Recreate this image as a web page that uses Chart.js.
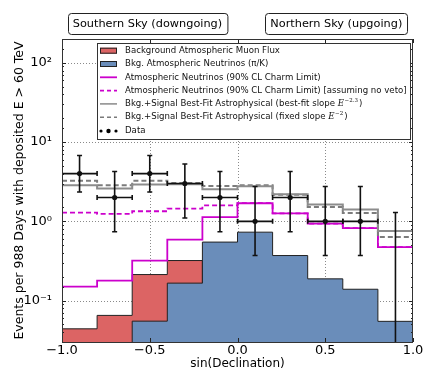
<!DOCTYPE html>
<html><head><meta charset="utf-8">
<script src="https://cdn.jsdelivr.net/npm/chart.js@4.4.1/dist/chart.umd.min.js"></script>
<style>html,body{margin:0;padding:0;background:#fff}</style>
</head><body>
<canvas id="c" width="436" height="373" style="width:436px;height:373px;display:block"></canvas>
<script>
// ---------- data ----------
const binEdges       = [-1.0,-0.8,-0.6,-0.4,-0.2,0.0,0.2,0.4,0.6,0.8,1.0];
const muonFlux       = [0.044,0.065,0.213,0.32,0,0,0,0,0,0];
const atmNuPiK       = [0,0,0.055,0.166,0.547,0.73,0.37,0.188,0.139,0.0547];
const charmLimit     = [0.150,0.179,0.32,0.586,1.13,1.69,1.26,0.935,0.82,0.473];
const charmNoVeto    = [1.29,1.24,1.34,1.45,1.59,1.70,1.26,0.935,0.82,0.473];
const bestFitSlope23 = [2.86,2.59,2.92,2.94,2.54,2.77,2.20,1.63,1.41,0.755];
const fixedSlope2    = [3.24,2.86,3.24,3.05,2.80,2.86,2.17,1.52,1.27,0.634];
const dataCounts     = [4,2,4,3,2,1,2,1,1,0];
const dataErrLow     = [2.34,0.74,2.34,1.10,0.74,0.37,0.74,0.37,0.37,0];
const dataErrHigh    = [6.78,4.25,6.78,5.30,4.25,2.75,4.25,2.75,2.75,1.29];
const xTickValues    = [-1.0,-0.5,0.0,0.5,1.0];
const yTickLabels    = {'-1':'10\u207B\u00B9','0':'10\u2070','1':'10\u00B9','2':'10\u00B2'};
const skyLabels      = [{text:'Southern Sky (downgoing)', at:-0.513},{text:'Northern Sky (upgoing)', at:0.563}];
const legendItems = [
  {kind:'patch', color:'#dc6464', text:'Background Atmospheric Muon Flux'},
  {kind:'patch', color:'#6a8dba', text:'Bkg. Atmospheric Neutrinos (\u03C0/K)'},
  {kind:'line',  color:'#cc00cc', dash:[], text:'Atmospheric Neutrinos (90% CL Charm Limit)'},
  {kind:'line',  color:'#cc00cc', dash:[4,3], text:'Atmospheric Neutrinos (90% CL Charm Limit) [assuming no veto]'},
  {kind:'line',  color:'#8a8a8a', dash:[], text:'Bkg.+Signal Best-Fit Astrophysical (best-fit slope ', exp:'\u22122.3', tail:')'},
  {kind:'line',  color:'#7a7a7a', dash:[4,3], text:'Bkg.+Signal Best-Fit Astrophysical (fixed slope ', exp:'\u22122', tail:')'},
  {kind:'dots',  color:'#000', text:'Data'}
];
// ---------------------------------------------------

const FLOOR = 1e-3;
function stepPoints(vals){
  const pts = vals.map((v,i)=>({x:binEdges[i], y: v>0 ? v : FLOOR}));
  pts.push({x:binEdges[binEdges.length-1], y:pts[pts.length-1].y});
  return pts;
}
const centers = binEdges.slice(0,-1).map((e,i)=>(e+binEdges[i+1])/2);
const dataPts = dataCounts.map((c,i)=>({x:centers[i], y:c>0?c:null}));
const isMajor = v => Math.abs(Math.log10(v)-Math.round(Math.log10(v)))<1e-6;

Chart.defaults.font.family = "'DejaVu Sans', sans-serif";
Chart.defaults.color = '#000';

const decor = {
  id:'decor',
  beforeDatasetsDraw(chart){
    const {ctx, chartArea:a, scales:{x,y}} = chart;
    ctx.save();
    ctx.strokeStyle = '#8a8a8a'; ctx.lineWidth = 1; ctx.setLineDash([1,2]);
    y.ticks.forEach(t=>{ if(isMajor(t.value)){ const py=Math.round(y.getPixelForValue(t.value))+0.5;
      ctx.beginPath(); ctx.moveTo(a.left,py); ctx.lineTo(a.right,py); ctx.stroke(); }});
    xTickValues.slice(1,-1).forEach(v=>{ const px=Math.round(x.getPixelForValue(v))+0.5;
      ctx.beginPath(); ctx.moveTo(px,a.top); ctx.lineTo(px,a.bottom); ctx.stroke(); });
    ctx.restore();
  },
  afterDatasetsDraw(chart){
    const {ctx, chartArea:a, scales:{x,y}} = chart;
    ctx.save();
    ctx.beginPath(); ctx.rect(a.left,a.top,a.right-a.left,a.bottom-a.top); ctx.clip();
    ctx.strokeStyle='#111'; ctx.lineWidth=1.6; ctx.setLineDash([]);
    const py = v => v>0 ? y.getPixelForValue(v) : a.bottom+5;
    dataCounts.forEach((c,i)=>{
      const cx = x.getPixelForValue(centers[i]);
      const yh = py(dataErrHigh[i]), yl = py(dataErrLow[i]);
      ctx.beginPath(); ctx.moveTo(cx,yh); ctx.lineTo(cx,yl);
      ctx.moveTo(cx-2.5,yh); ctx.lineTo(cx+2.5,yh);
      if(dataErrLow[i]>0){ ctx.moveTo(cx-2.5,yl); ctx.lineTo(cx+2.5,yl); }
      ctx.stroke();
      if(c>0){
        const yc = y.getPixelForValue(c);
        const x0 = x.getPixelForValue(binEdges[i]), x1 = x.getPixelForValue(binEdges[i+1]);
        ctx.beginPath(); ctx.moveTo(x0,yc); ctx.lineTo(x1,yc);
        ctx.moveTo(x0,yc-2.5); ctx.lineTo(x0,yc+2.5);
        ctx.moveTo(x1,yc-2.5); ctx.lineTo(x1,yc+2.5);
        ctx.stroke();
      }
    });
    ctx.restore();
  },
  afterDraw(chart){
    const {ctx, chartArea:a, scales:{x,y}} = chart;
    ctx.save();
    ctx.strokeStyle='#222'; ctx.lineWidth=1; ctx.setLineDash([]);
    y.ticks.forEach(t=>{ const p=Math.round(y.getPixelForValue(t.value))+0.5; const L=isMajor(t.value)?4:2;
      ctx.beginPath(); ctx.moveTo(a.left,p); ctx.lineTo(a.left+L,p); ctx.moveTo(a.right,p); ctx.lineTo(a.right-L,p); ctx.stroke(); });
    xTickValues.forEach(v=>{ const p=Math.round(x.getPixelForValue(v))+0.5;
      ctx.beginPath(); ctx.moveTo(p,a.bottom); ctx.lineTo(p,a.bottom-4); ctx.moveTo(p,a.top); ctx.lineTo(p,a.top+4); ctx.stroke(); });
    ctx.strokeStyle='#333';
    ctx.strokeRect(Math.round(a.left)+0.5, Math.round(a.top)+0.5, Math.round(a.right-a.left)-1, Math.round(a.bottom-a.top));
    // legend
    const lx=97.5, ly=43.5, lw=313, lh=96;
    ctx.fillStyle='#fff'; ctx.fillRect(lx,ly,lw,lh);
    ctx.strokeStyle='#333'; ctx.lineWidth=1; ctx.strokeRect(lx,ly,lw,lh);
    const font = "8.6px 'DejaVu Sans'";
    legendItems.forEach((it,i)=>{
      const ry = 50.7 + i*13.3;
      const hx0=100, hx1=117;
      if(it.kind==='patch'){
        ctx.fillStyle=it.color; ctx.fillRect(hx0,ry-3,hx1-hx0,6);
        ctx.strokeStyle='#222'; ctx.lineWidth=1; ctx.strokeRect(hx0+0.5,ry-2.5,hx1-hx0-1,5);
      } else if(it.kind==='line'){
        ctx.strokeStyle=it.color; ctx.lineWidth=it.color==='#cc00cc'?1.8:1.5; ctx.setLineDash(it.dash);
        ctx.beginPath(); ctx.moveTo(hx0,ry); ctx.lineTo(hx1,ry); ctx.stroke(); ctx.setLineDash([]);
      } else {
        ctx.fillStyle='#000';
        [[101,1.6],[108.5,2.2],[116,1.6]].forEach(([px,r])=>{ctx.beginPath(); ctx.arc(px,ry+0.5,r,0,Math.PI*2); ctx.fill();});
      }
      ctx.fillStyle='#111'; ctx.font=font; ctx.textBaseline='middle'; ctx.textAlign='left';
      let tx=125;
      ctx.fillText(it.text,tx,ry); tx+=ctx.measureText(it.text).width;
      if(it.exp){
        ctx.font="italic 8.6px 'DejaVu Serif'"; ctx.fillText('E',tx,ry); tx+=ctx.measureText('E').width+0.5;
        ctx.font="5.5px 'DejaVu Serif'"; ctx.fillText(it.exp,tx,ry-3.5); tx+=ctx.measureText(it.exp).width+1;
        ctx.font=font; ctx.fillText(it.tail,tx,ry);
      }
    });
    // sky labels
    ctx.font="11.3px 'DejaVu Sans'"; ctx.textAlign='center'; ctx.textBaseline='middle';
    skyLabels.forEach(s=>{
      const cx = x.getPixelForValue(s.at);
      const w = ctx.measureText(s.text).width + 10;
      const bx = Math.round(cx-w/2)+0.5, by=13.5, bh=21;
      ctx.beginPath(); ctx.roundRect(bx,by,w,bh,3); ctx.fillStyle='#fff'; ctx.fill();
      ctx.strokeStyle='#222'; ctx.lineWidth=1; ctx.stroke();
      ctx.fillStyle='#000'; ctx.fillText(s.text,cx,by+bh/2+0.5);
    });
    ctx.restore();
  }
};

new Chart(document.getElementById('c'), {
  type:'line',
  data:{ datasets:[
    {label:'Data', data:dataPts, showLine:false, pointRadius:2.6, pointHoverRadius:2.6, pointBackgroundColor:'#111', pointBorderWidth:0, order:0},
    {label:'Best-fit slope', data:stepPoints(bestFitSlope23), stepped:'before', borderColor:'#8c8c8c', borderWidth:2, pointRadius:0, fill:false, order:1},
    {label:'Fixed slope', data:stepPoints(fixedSlope2), stepped:'before', borderColor:'#7c7c7c', borderWidth:2, borderDash:[5,3], pointRadius:0, fill:false, order:2},
    {label:'Charm no veto', data:stepPoints(charmNoVeto), stepped:'before', borderColor:'#cc00cc', borderWidth:1.8, borderDash:[5,3], pointRadius:0, fill:false, order:3},
    {label:'Charm limit', data:stepPoints(charmLimit), stepped:'before', borderColor:'#cc00cc', borderWidth:1.8, pointRadius:0, fill:false, order:4},
    {label:'Atm nu', data:stepPoints(atmNuPiK), stepped:'before', borderColor:'#222', borderWidth:1, backgroundColor:'#6a8dba', pointRadius:0, fill:'start', order:5},
    {label:'Muon', data:stepPoints(muonFlux), stepped:'before', borderColor:'#222', borderWidth:1, backgroundColor:'#dc6464', pointRadius:0, fill:'start', order:6}
  ]},
  options:{
    responsive:false, animation:false, devicePixelRatio:1,
    layout:{padding:{top:39,right:23,left:0,bottom:0}},
    plugins:{legend:{display:false}, tooltip:{enabled:false}},
    scales:{
      x:{type:'linear', min:-1, max:1,
        afterBuildTicks(s){ s.ticks = xTickValues.map(v=>({value:v})); },
        afterFit(s){ s.height = 31; },
        grid:{display:false, drawTicks:false}, border:{display:false},
        ticks:{padding:1, font:{size:13}, color:'#000', callback:v=>(v<0?'\u2212':'')+Math.abs(v).toFixed(1)},
        title:{display:true, text:'sin(Declination)', font:{size:12}, color:'#000', padding:{top:0,bottom:2}}
      },
      y:{type:'logarithmic', min:0.03, max:200,
        afterFit(s){ s.width = 62; },
        grid:{display:false, drawTicks:false}, border:{display:false},
        ticks:{autoSkip:false, padding:10, font:{size:13}, color:'#000',
          callback:v=> isMajor(v) ? (yTickLabels[String(Math.round(Math.log10(v)))]||'') : ''},
        title:{display:true, text:'Events per 988 Days with deposited E > 60 TeV', font:{size:12.5}, color:'#000', padding:{top:12,bottom:0}}
      }
    }
  },
  plugins:[decor]
});
</script>
</body></html>
